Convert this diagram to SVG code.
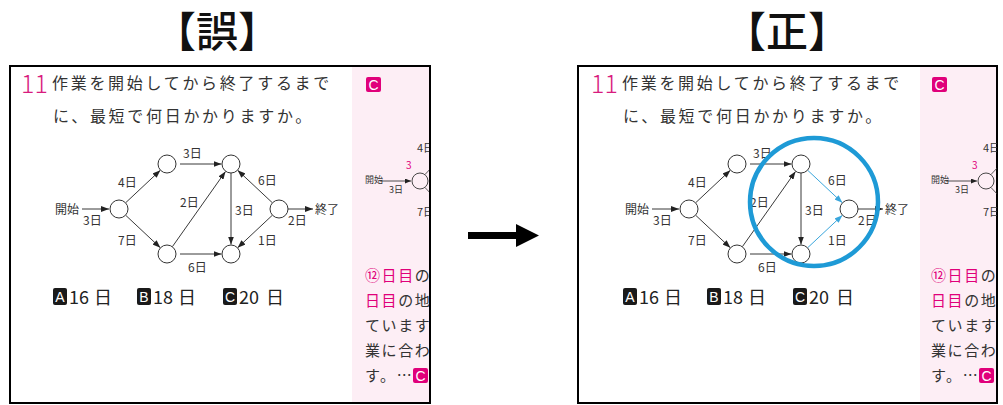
<svg xmlns="http://www.w3.org/2000/svg" width="1003" height="405" viewBox="0 0 1003 405">
<style>
text{font-family:"Noto Sans CJK JP","Noto Sans",sans-serif}
.title{font-size:42px;font-weight:500;fill:#111;text-anchor:middle}
.num{font-size:25px;font-weight:300;fill:#d81b7e}
.q{font-size:16px;letter-spacing:2.7px;fill:#333}
.lbl{font-size:12px;fill:#333}
.ans{font-size:18px;fill:#222}
.badge{fill:#1a1a1a}
.badgep{fill:#e0007a}
.bl{font-family:"Liberation Sans",Arial,sans-serif;font-size:14px;fill:#fff;text-anchor:middle}
.node{fill:#fff;stroke:#333;stroke-width:1}
.edge{fill:none;stroke:#222;stroke-width:0.9;marker-end:url(#ah)}
.edgeb{fill:none;stroke:#3aa6dc;stroke-width:1;marker-end:url(#ahb)}
.side{font-size:15px;letter-spacing:1.6px;fill:#333}
.pk{fill:#e0007a}
.mini{font-size:9px;fill:#333}
.frame{fill:#fff;stroke:#000;stroke-width:2}
</style>
<defs>
<marker id="ah" markerUnits="userSpaceOnUse" markerWidth="8" markerHeight="6" refX="8" refY="3" orient="auto"><path d="M0,0 L8,3 L0,6 z" fill="#222"/></marker>
<marker id="ahb" markerUnits="userSpaceOnUse" markerWidth="8" markerHeight="6" refX="8" refY="3" orient="auto"><path d="M0,0 L8,3 L0,6 z" fill="#3aa6dc"/></marker>
<marker id="ahs" markerUnits="userSpaceOnUse" markerWidth="6" markerHeight="5" refX="6" refY="2.5" orient="auto"><path d="M0,0 L6,2.5 L0,5 z" fill="#222"/></marker>
<clipPath id="sideclip" clipPathUnits="userSpaceOnUse"><rect x="352" y="67" width="77" height="335"/></clipPath>
</defs>

<!-- ===== LEFT PANEL (wrong) ===== -->
<g id="panel-wrong">
  <text class="title" x="217" y="47">【誤】</text>
  <rect class="frame" x="10" y="66" width="420" height="337"/>
  <rect x="352" y="67" width="77" height="335" fill="#fdeef5"/>
  <g id="w-question">
    <text class="num" x="21" y="93">11</text>
    <text class="q" x="52" y="89">作業を開始してから終了するまで</text>
    <text class="q" x="53" y="122">に、最短で何日かかりますか。</text>
  </g>
  <g id="w-connectors">
    <path class="edge" d="M82,209 L109,209"/>
    <path class="edge" d="M125.6,202.8 L160.4,170.2"/>
    <path class="edge" d="M180,164 L221.5,164"/>
    <path class="edge" d="M125.6,215.2 L160.4,247.8"/>
    <path class="edge" d="M180,254 L221.5,254"/>
    <path class="edge" d="M172.5,246.5 L225.5,171.5"/>
    <path class="edge" d="M231,173 L231,244.5"/>
    <path class="edge" d="M272.4,202.8 L237.6,170.2"/>
    <path class="edge" d="M272.4,215.2 L237.6,247.8"/>
    <path class="edge" d="M288,209 L313,209"/>
  </g>
  <g id="w-node-start"><circle class="node" cx="119" cy="209" r="9"/></g>
  <g id="w-node-tl"><circle class="node" cx="167" cy="164" r="9"/></g>
  <g id="w-node-tr"><circle class="node" cx="231" cy="164" r="9"/></g>
  <g id="w-node-bl"><circle class="node" cx="167" cy="254" r="9"/></g>
  <g id="w-node-br"><circle class="node" cx="231" cy="254" r="9"/></g>
  <g id="w-node-r"><circle class="node" cx="279" cy="209" r="9"/></g>
  <g id="w-labels">
    <text class="lbl" x="55" y="214">開始</text>
    <text class="lbl" x="83" y="225">3日</text>
    <text class="lbl" x="118" y="187">4日</text>
    <text class="lbl" x="183" y="158">3日</text>
    <text class="lbl" x="258" y="185">6日</text>
    <text class="lbl" x="180" y="207">2日</text>
    <text class="lbl" x="235" y="215">3日</text>
    <text class="lbl" x="118" y="245">7日</text>
    <text class="lbl" x="188" y="272">6日</text>
    <text class="lbl" x="258" y="245">1日</text>
    <text class="lbl" x="288" y="225">2日</text>
    <text class="lbl" x="315" y="214">終了</text>
  </g>
  <g id="w-answers">
    <rect class="badge" x="53" y="288" width="14" height="17" rx="2"/><text class="bl" x="60" y="302">A</text>
    <text class="ans" x="69" y="304">16</text><text class="ans" x="94" y="304">日</text>
    <rect class="badge" x="137" y="288" width="14" height="17" rx="2"/><text class="bl" x="144" y="302">B</text>
    <text class="ans" x="153" y="304">18</text><text class="ans" x="178" y="304">日</text>
    <rect class="badge" x="223" y="288" width="14" height="17" rx="2"/><text class="bl" x="230" y="302">C</text>
    <text class="ans" x="239" y="304">20</text><text class="ans" x="266" y="304">日</text>
  </g>
  <g id="w-sidebar" clip-path="url(#sideclip)">
    <rect class="badgep" x="366" y="77" width="15" height="15" rx="2"/><text class="bl" x="373.5" y="89.5">C</text>
    <text class="mini" x="365" y="183">開始</text>
    <path d="M380,181 L411,181" fill="none" stroke="#222" stroke-width="0.8" marker-end="url(#ahs)"/>
    <text class="mini" x="389" y="193">3日</text>
    <text x="406" y="169" font-size="10" class="pk">3</text>
    <circle cx="420" cy="181" r="8" fill="none" stroke="#333" stroke-width="0.9"/>
    <path d="M425,174.5 L433,166 M425,187.5 L433,196" fill="none" stroke="#333" stroke-width="0.8"/>
    <text x="417" y="152" font-size="11" fill="#333">4日</text>
    <text x="417" y="216" font-size="11" fill="#333">7日</text>
    <text class="side" x="365" y="281"><tspan class="pk">⑫日目</tspan>の</text>
    <text class="side" x="365" y="306"><tspan class="pk">日目</tspan>の地</text>
    <text class="side" x="365" y="331">ています</text>
    <text class="side" x="365" y="356">業に合わ</text>
    <text class="side" x="365" y="381">す。…</text>
    <rect class="badgep" x="413" y="368" width="15" height="15" rx="2"/><text class="bl" x="420.5" y="380.5">C</text>
  </g>
</g>

<!-- ===== MIDDLE ARROW ===== -->
<g id="transition-arrow">
  <path d="M468,232 L516,232 L516,224 L539,235.5 L516,247 L516,239 L468,239 z" fill="#000"/>
</g>

<!-- ===== RIGHT PANEL (correct) ===== -->
<g id="panel-correct" transform="translate(568,0)">
  <text class="title" x="219" y="47">【正】</text>
  <rect class="frame" x="10" y="66" width="419" height="337"/>
  <rect x="352" y="67" width="76" height="335" fill="#fdeef5"/>
  <g transform="translate(2,0)">
    <g id="c-question">
      <text class="num" x="21" y="93">11</text>
      <text class="q" x="52" y="89">作業を開始してから終了するまで</text>
      <text class="q" x="53" y="122">に、最短で何日かかりますか。</text>
    </g>
    <g id="c-connectors">
      <path class="edge" d="M82,209 L109,209"/>
      <path class="edge" d="M125.6,202.8 L160.4,170.2"/>
      <path class="edge" d="M180,164 L221.5,164"/>
      <path class="edge" d="M125.6,215.2 L160.4,247.8"/>
      <path class="edge" d="M180,254 L221.5,254"/>
      <path class="edge" d="M172.5,246.5 L225.5,171.5"/>
      <path class="edge" d="M231,173 L231,244.5"/>
      <path class="edgeb" d="M237.6,170.2 L272.4,202.8"/>
      <path class="edgeb" d="M237.6,247.8 L272.4,215.2"/>
      <path class="edge" d="M288,209 L313,209"/>
    </g>
    <g id="c-node-start"><circle class="node" cx="119" cy="209" r="9"/></g>
    <g id="c-node-tl"><circle class="node" cx="167" cy="164" r="9"/></g>
    <g id="c-node-tr"><circle class="node" cx="231" cy="164" r="9"/></g>
    <g id="c-node-bl"><circle class="node" cx="167" cy="254" r="9"/></g>
    <g id="c-node-br"><circle class="node" cx="231" cy="254" r="9"/></g>
    <g id="c-node-r"><circle class="node" cx="279" cy="209" r="9"/></g>
    <g id="c-labels">
      <text class="lbl" x="55" y="214">開始</text>
      <text class="lbl" x="83" y="225">3日</text>
      <text class="lbl" x="118" y="187">4日</text>
      <text class="lbl" x="183" y="158">3日</text>
      <text class="lbl" x="258" y="185">6日</text>
      <text class="lbl" x="180" y="207">2日</text>
      <text class="lbl" x="235" y="215">3日</text>
      <text class="lbl" x="118" y="245">7日</text>
      <text class="lbl" x="188" y="272">6日</text>
      <text class="lbl" x="258" y="245">1日</text>
      <text class="lbl" x="288" y="225">2日</text>
      <text class="lbl" x="315" y="214">終了</text>
    </g>
    <g id="c-highlight">
      <circle cx="244" cy="202" r="64" fill="none" stroke="#1e9ad6" stroke-width="4.5"/>
    </g>
    <g id="c-answers">
      <rect class="badge" x="53" y="288" width="14" height="17" rx="2"/><text class="bl" x="60" y="302">A</text>
      <text class="ans" x="69" y="304">16</text><text class="ans" x="94" y="304">日</text>
      <rect class="badge" x="137" y="288" width="14" height="17" rx="2"/><text class="bl" x="144" y="302">B</text>
      <text class="ans" x="153" y="304">18</text><text class="ans" x="178" y="304">日</text>
      <rect class="badge" x="223" y="288" width="14" height="17" rx="2"/><text class="bl" x="230" y="302">C</text>
      <text class="ans" x="239" y="304">20</text><text class="ans" x="266" y="304">日</text>
    </g>
  </g>
  <g id="c-sidebar" clip-path="url(#sideclip)">
    <g transform="translate(-2,0)">
      <rect class="badgep" x="366" y="77" width="15" height="15" rx="2"/><text class="bl" x="373.5" y="89.5">C</text>
      <text class="mini" x="365" y="183">開始</text>
      <path d="M380,181 L411,181" fill="none" stroke="#222" stroke-width="0.8" marker-end="url(#ahs)"/>
      <text class="mini" x="389" y="193">3日</text>
      <text x="406" y="169" font-size="10" class="pk">3</text>
      <circle cx="420" cy="181" r="8" fill="none" stroke="#333" stroke-width="0.9"/>
      <path d="M425,174.5 L433,166 M425,187.5 L433,196" fill="none" stroke="#333" stroke-width="0.8"/>
      <text x="417" y="152" font-size="11" fill="#333">4日</text>
      <text x="417" y="216" font-size="11" fill="#333">7日</text>
      <text class="side" x="365" y="281"><tspan class="pk">⑫日目</tspan>の</text>
      <text class="side" x="365" y="306"><tspan class="pk">日目</tspan>の地</text>
      <text class="side" x="365" y="331">ています</text>
      <text class="side" x="365" y="356">業に合わ</text>
      <text class="side" x="365" y="381">す。…</text>
      <rect class="badgep" x="413" y="368" width="15" height="15" rx="2"/><text class="bl" x="420.5" y="380.5">C</text>
    </g>
  </g>
</g>
</svg>
